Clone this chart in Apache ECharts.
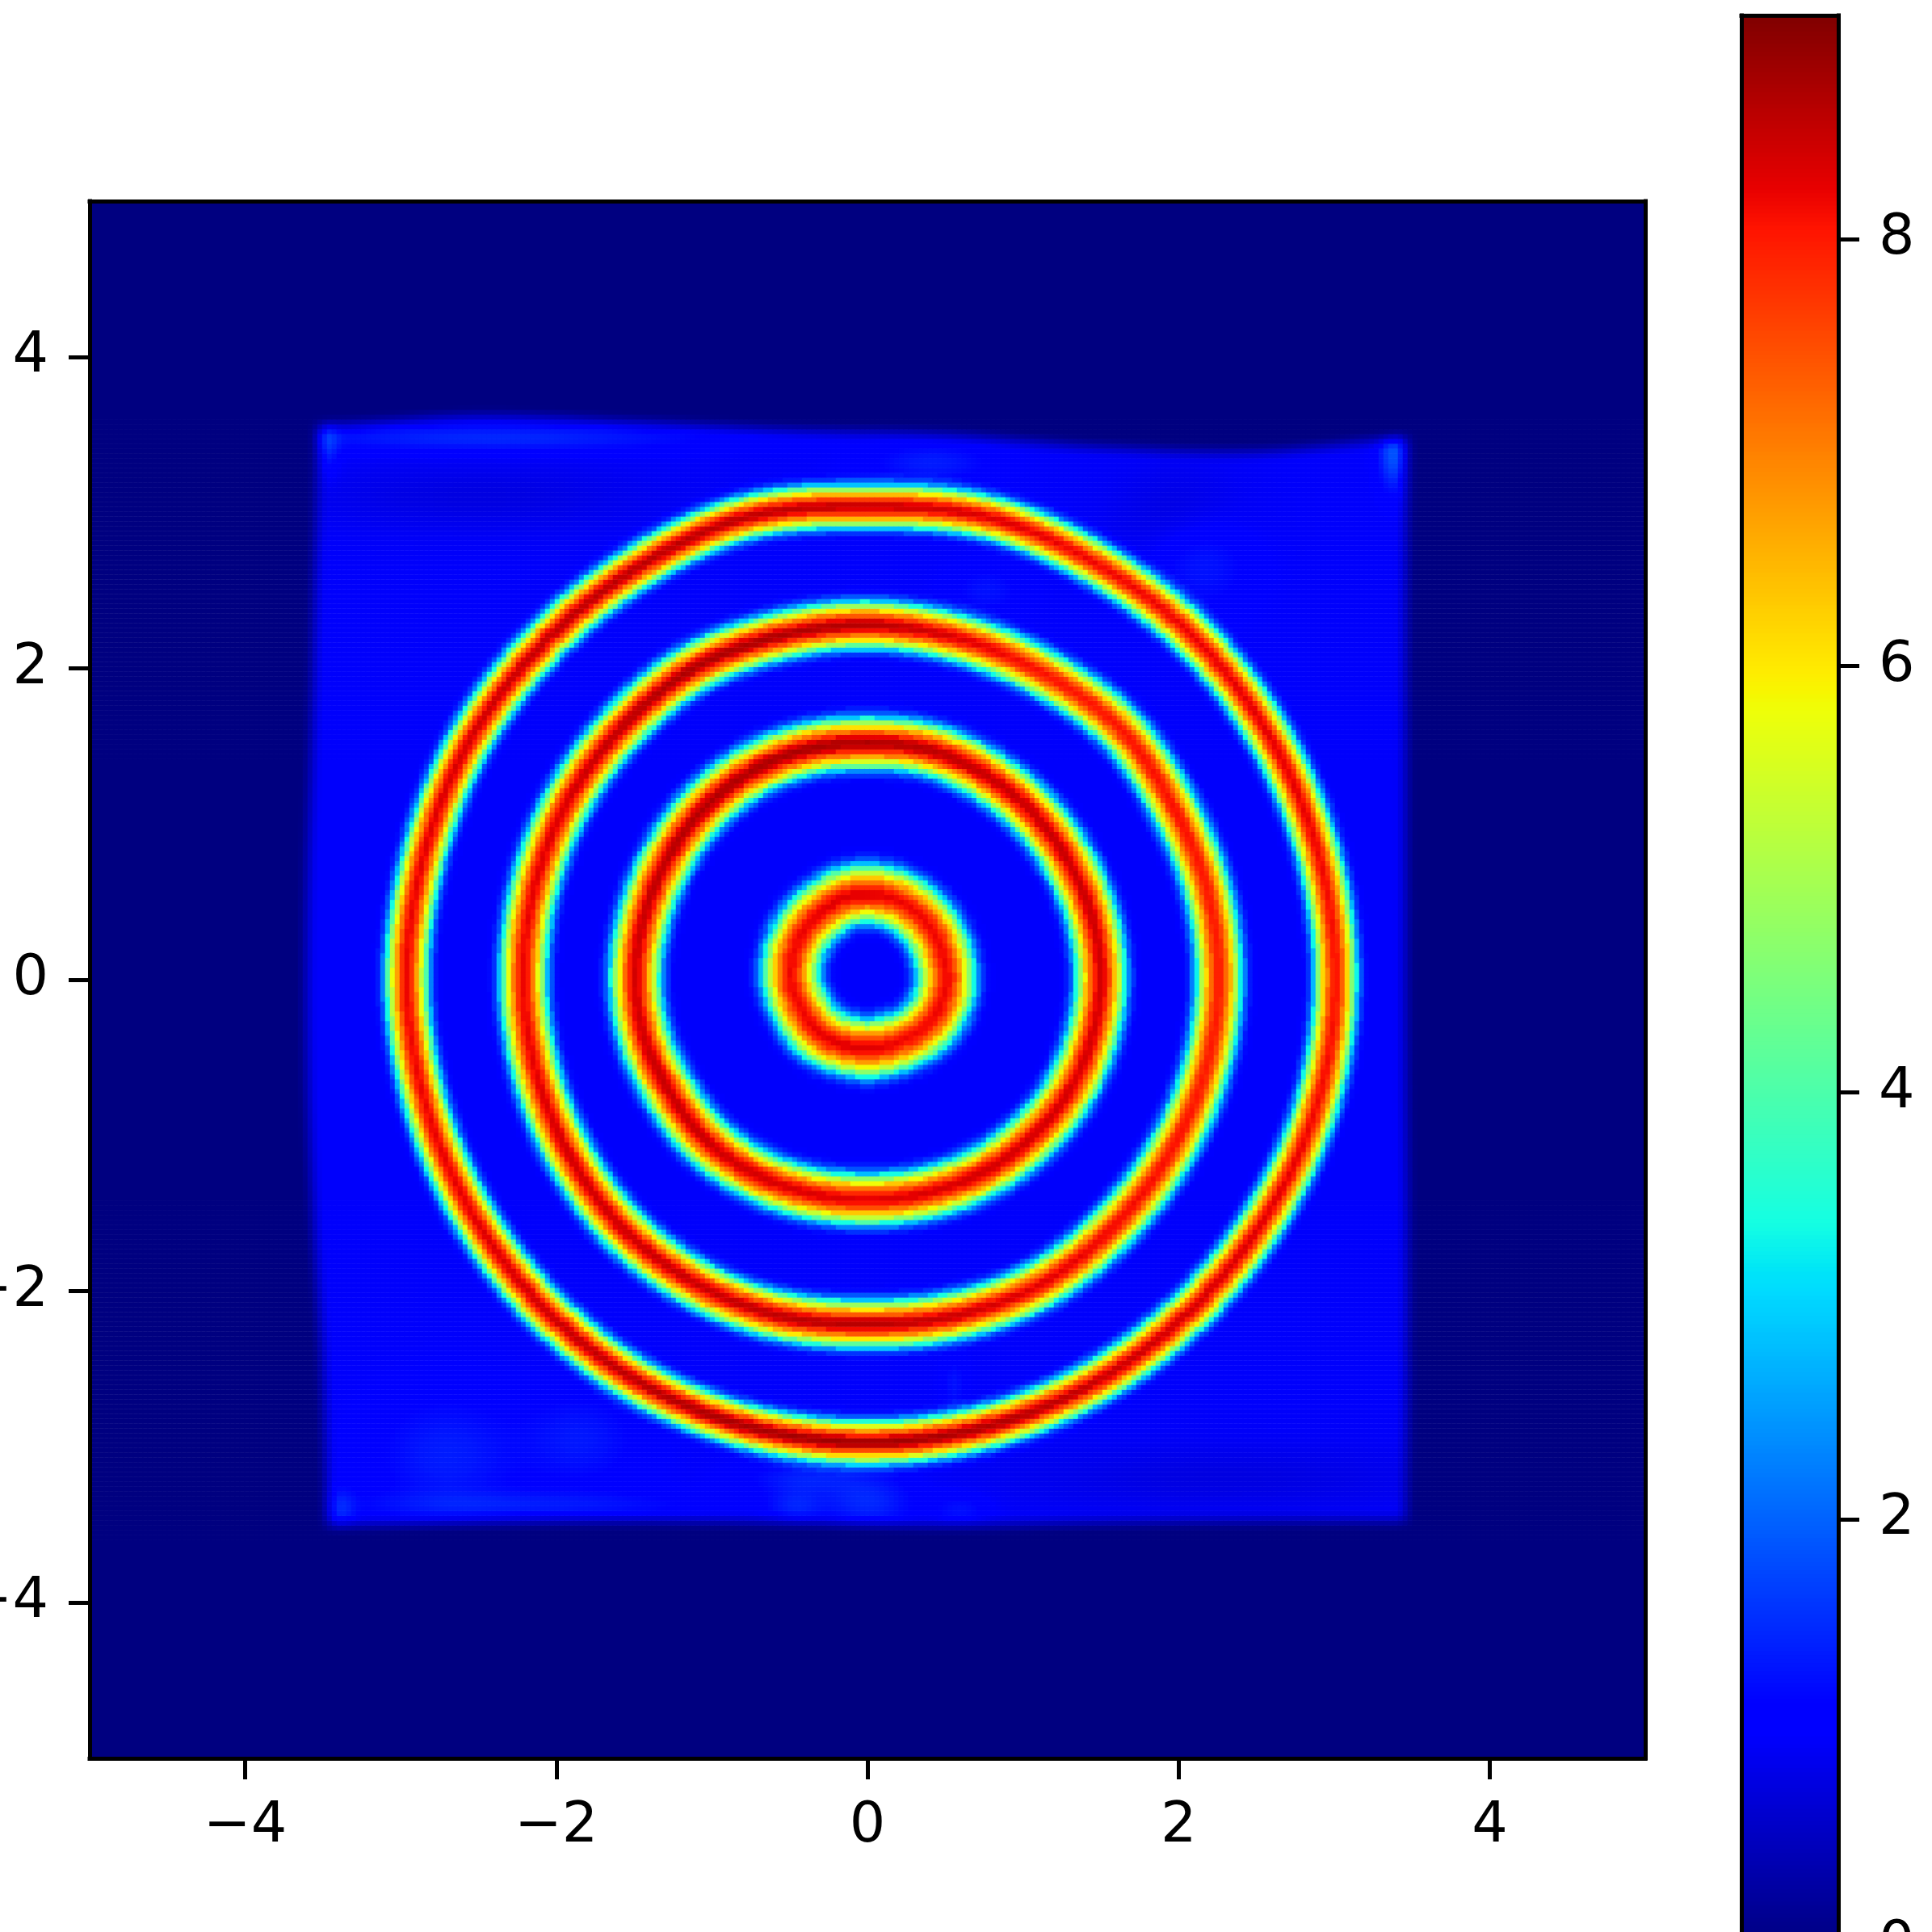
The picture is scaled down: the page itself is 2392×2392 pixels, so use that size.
<!DOCTYPE html>
<html>
<head>
<meta charset="utf-8">
<style>html,body{margin:0;padding:0;background:#fff;overflow:hidden}#c{width:2392px;height:2392px}</style>
<script src="https://cdn.jsdelivr.net/npm/echarts@6/dist/echarts.min.js"></script>
</head>
<body>
<div id="c"></div>
<script>
// ---- values ----
const xTicks = [-4, -2, 0, 2, 4];
const yTicks = [-4, -2, 0, 2, 4];
const colorbarTicks = [0, 2, 4, 6, 8];
const valueMax = 9.05;
const backgroundLevel = 0.97;

// ring peak radius every 15 degrees, counter-clockwise from +x
const outerRingRadius = [3.01,3.01,3.02,3.04,3.05,3.07,3.04,3.07,3.03,3.00,2.98,2.96,2.96,2.95,2.95,2.96,2.97,2.97,2.97,2.97,2.97,2.97,2.98,3.00];
const thirdRingRadius = [2.26,2.26,2.26,2.29,2.27,2.27,2.28,2.28,2.29,2.26,2.24,2.22,2.21,2.21,2.22,2.24,2.24,2.23,2.21,2.23,2.25,2.24,2.24,2.25];
const secondRingRadius = [1.50,1.50,1.50,1.51,1.52,1.53,1.52,1.53,1.53,1.52,1.50,1.49,1.49,1.48,1.46,1.46,1.44,1.42,1.41,1.42,1.44,1.46,1.48,1.49];
const innerRingRadius = [0.51,0.51,0.52,0.53,0.54,0.55,0.55,0.55,0.53,0.52,0.51,0.50,0.49,0.47,0.46,0.46,0.45,0.44,0.44,0.44,0.45,0.47,0.49,0.50];

// ring peak value every 30 degrees
const outerRingPeak = [8.1,8.3,8.2,8.5,8.6,8.4,8.2,8.3,8.6,8.8,8.5,8.3];
const thirdRingPeak = [8.0,8.1,8.1,8.6,8.7,8.4,8.2,8.4,8.5,8.6,8.3,8.1];
const secondRingPeak = [8.4,8.5,8.5,8.7,8.7,8.6,8.4,8.5,8.4,8.3,8.4,8.4];
const innerRingPeak = [8.2,8.2,8.2,8.3,8.3,8.2,8.2,8.2,8.3,8.3,8.2,8.2];

// relative ring widening
const ringWidth = [1.1, 1.2, 1.3, 1.5];

// fraction of ring peak at distance 0, 0.01, 0.02 ... from the ring centre line
const ringProfile = [1,.99,.97,.94,.89,.84,.79,.73,.66,.59,.51,.42,.33,.25,.18,.12,.08,.05,.03,.015,.005,0];

// wavy limits of the lit square, sampled at -3.5, -2.5 ... 3.5
const topEdge = [3.56,3.62,3.58,3.53,3.50,3.42,3.39,3.48];
const bottomEdge = [-3.50,-3.48,-3.47,-3.48,-3.50,-3.48,-3.47,-3.47];
const leftEdge = [-3.47,-3.50,-3.56,-3.60,-3.60,-3.57,-3.55,-3.53];
const rightEdge = [3.46,3.47,3.47,3.46,3.46,3.46,3.46,3.47];

// faint patches on the background
const patchX = [-3.47,-2.4,3.38,0.41,2.16,0.77,-2.7,-1.85,-2.2,0.0,-0.46,0.6,-0.4,0.56,-3.38,2.3,2.0,-2.5];
const patchY = [3.45,3.48,3.38,3.32,2.68,2.5,-3.05,-2.95,-3.37,-3.35,-3.38,-3.4,-3.2,-2.6,-3.4,-3.2,3.0,3.1];
const patchWidth = [.05,.9,.06,.25,.2,.15,.3,.25,.8,.2,.12,.12,.25,.05,.06,1.0,.3,.8];
const patchHeight = [.12,.06,.15,.08,.2,.1,.25,.2,.06,.12,.08,.07,.07,.12,.1,.15,.2,.15];
const patchLevel = [.5,.5,.9,.4,.35,.3,.4,.35,.35,.5,.4,.3,.4,.3,.4,-.2,-.2,-.2];

// ---- lookups over the tables above ----
function spline(a, b, c, d, f) {
  return b + 0.5 * f * (c - a + f * (2 * a - 5 * b + 4 * c - d + f * (3 * (b - c) + d - a)));
}
function around(table, deg) {
  const n = table.length;
  const p = ((deg % 360) + 360) % 360 / (360 / n);
  const i = Math.floor(p), f = p - i;
  return spline(table[(i - 1 + n) % n], table[i % n], table[(i + 1) % n], table[(i + 2) % n], f);
}
function along(table, t) {
  const n = table.length;
  const p = Math.min(n - 1.001, Math.max(0, t + 3.5));
  const i = Math.floor(p), f = p - i;
  return spline(table[Math.max(0, i - 1)], table[i], table[i + 1], table[Math.min(n - 1, i + 2)], f);
}
function soft(d) { const s = Math.max(0, Math.min(1, d / 0.15 + 0.5)); return s * s * (3 - 2 * s); }

const rings = [
  [outerRingRadius, outerRingPeak],
  [thirdRingRadius, thirdRingPeak],
  [secondRingRadius, secondRingPeak],
  [innerRingRadius, innerRingPeak]
];

function cellValue(x, y) {
  const inside = soft(along(topEdge, x) - y) * soft(y - along(bottomEdge, x)) *
                 soft(x - along(leftEdge, y)) * soft(along(rightEdge, y) - x);
  if (inside <= 0) return 0;
  let bg = backgroundLevel;
  for (let p = 0; p < patchX.length; p++) {
    const a = (x - patchX[p]) / patchWidth[p], b = (y - patchY[p]) / patchHeight[p];
    const q = a * a + b * b;
    if (q < 9) bg += patchLevel[p] * Math.exp(-q / 2);
  }
  bg *= inside;
  const r = Math.hypot(x, y), deg = Math.atan2(y, x) * 180 / Math.PI;
  let v = bg;
  for (let k = 0; k < rings.length; k++) {
    const d = Math.abs(r - around(rings[k][0], deg)) / ringWidth[k];
    const n = Math.round(d * 100);
    if (n < ringProfile.length) {
      const ringV = bg + ringProfile[n] * (around(rings[k][1], deg) - bg);
      if (ringV > v) v = ringV;
    }
  }
  return v;
}

const cellsPerSide = 321;
const cellIndex = Array.from({ length: cellsPerSide }, (_, i) => i);
const fieldCells = [];
for (let i = 0; i < cellsPerSide; i++) {
  const x = -5 + (i + 0.5) * 10 / cellsPerSide;
  for (let j = 0; j < cellsPerSide; j++) {
    const y = -5 + (j + 0.5) * 10 / cellsPerSide;
    fieldCells.push([i, j, cellValue(x, y)]);
  }
}
const colorbarLevels = 478;
const colorbarIndex = Array.from({ length: colorbarLevels }, (_, i) => i);
const colorbarCells = colorbarIndex.map(k => [0, k, (k + 0.5) / colorbarLevels * valueMax]);

// jet colour map
function ramp(pts, t) {
  for (let i = 1; i < pts.length; i++) {
    if (t <= pts[i][0]) return pts[i-1][1] + (pts[i][1] - pts[i-1][1]) * (t - pts[i-1][0]) / (pts[i][0] - pts[i-1][0]);
  }
  return pts[pts.length - 1][1];
}
const jet = [];
for (let i = 0; i < 256; i++) {
  const t = i / 255;
  const c = v => Math.round(255 * v);
  jet.push('rgb(' + c(ramp([[0,0],[.35,0],[.66,1],[.89,1],[1,.5]], t)) + ',' +
    c(ramp([[0,0],[.125,0],[.375,1],[.64,1],[.91,0],[1,0]], t)) + ',' +
    c(ramp([[0,.5],[.11,1],[.34,1],[.65,0],[1,0]], t)) + ')');
}

// ---- chart ----
const fontSize = 70;
const spine = { show: true, onZero: false, lineStyle: { color: '#000', width: 5, cap: 'square' } };
const tickStyle = { length: 26, lineStyle: { color: '#000', width: 5 } };
const labelStyle = { color: '#000', fontFamily: 'DejaVu Sans', fontSize: fontSize, hideOverlap: false };
const minus = v => String(v).replace('-', '\u2212');
const hiddenCat = (gridIndex, data) => ({ type: 'category', gridIndex, data, show: false });
const frame = (gridIndex, position, min, max) => ({
  type: 'value', gridIndex, position, min, max, z: 10,
  axisLine: spine, axisTick: { show: false }, axisLabel: { show: false }, splitLine: { show: false }
});
const ticked = (gridIndex, position, min, max, ticks, margin) => ({
  type: 'value', gridIndex, position, min, max, z: 10,
  axisLine: spine,
  axisTick: Object.assign({ show: true, customValues: ticks }, tickStyle),
  axisLabel: Object.assign({ show: true, margin, customValues: ticks, formatter: minus, showMinLabel: true, showMaxLabel: true }, labelStyle),
  splitLine: { show: false }
});

const main = { left: 111, top: 249, width: 1926, height: 1928 };
const bar = { left: 2156, top: 19, width: 120, height: 2390 };

const option = {
  backgroundColor: '#fff',
  animation: false,
  grid: [main, bar, main, bar].map(g => Object.assign({ containLabel: false, outerBoundsMode: 'none' }, g)),
  xAxis: [
    hiddenCat(0, cellIndex),
    hiddenCat(1, [0]),
    ticked(2, 'bottom', -5, 5, xTicks, 50),
    frame(2, 'top', -5, 5),
    frame(3, 'bottom', 0, 1),
    frame(3, 'top', 0, 1)
  ],
  yAxis: [
    hiddenCat(0, cellIndex),
    hiddenCat(1, colorbarIndex),
    ticked(2, 'left', -5, 5, yTicks, 51),
    frame(2, 'right', -5, 5),
    frame(3, 'left', 0, valueMax),
    ticked(3, 'right', 0, valueMax, colorbarTicks, 50)
  ],
  visualMap: {
    show: false, type: 'continuous', min: 0, max: valueMax, dimension: 2,
    seriesIndex: [0, 1], inRange: { color: jet }
  },
  series: [
    { type: 'heatmap', xAxisIndex: 0, yAxisIndex: 0, data: fieldCells, progressive: 0, silent: true, emphasis: { disabled: true } },
    { type: 'heatmap', xAxisIndex: 1, yAxisIndex: 1, data: colorbarCells, progressive: 0, silent: true, emphasis: { disabled: true } }
  ]
};
const chart = echarts.init(document.getElementById('c'), null, { renderer: 'canvas', width: 2392, height: 2392 });
chart.setOption(option);
</script>
</body>
</html>
